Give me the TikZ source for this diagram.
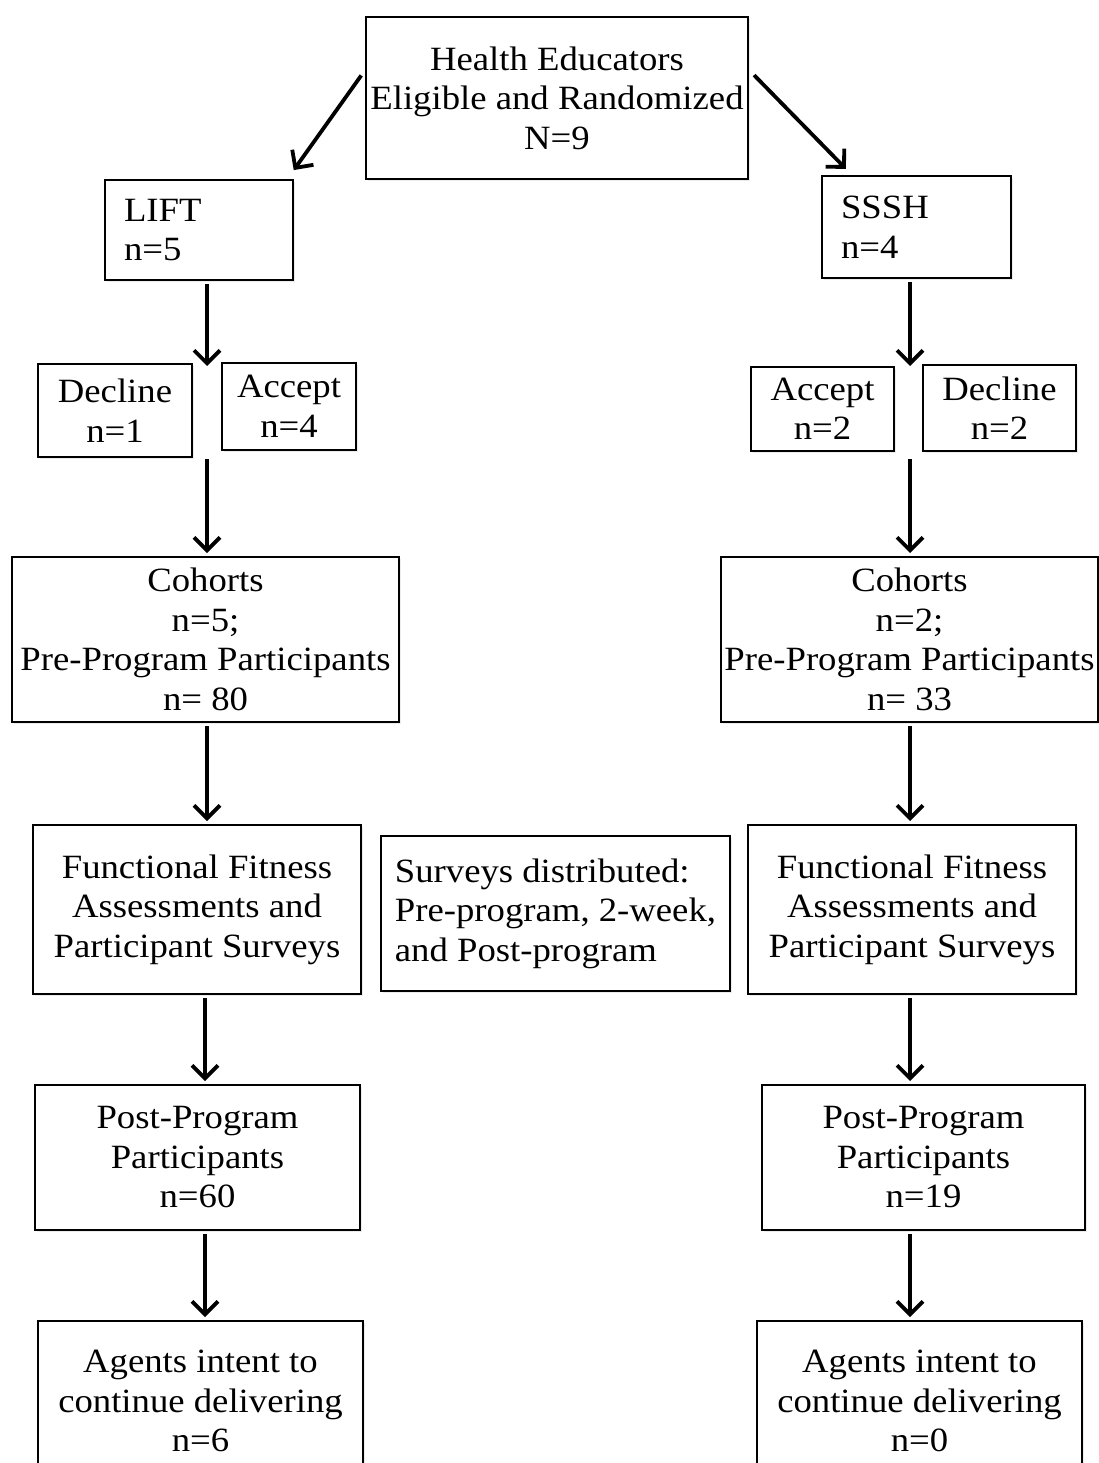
\documentclass[tikz,border=0pt]{standalone}
\usepackage{fontspec}
\setmainfont[FakeStretch=1.08]{Liberation Serif}
\usetikzlibrary{arrows.meta,shadows,calc}
\newcommand{\myfs}{\fontsize{34}{39.5}\selectfont}
\begin{document}
\begin{tikzpicture}[x=1pt,y=-1pt,
  box/.style={draw,line width=2pt,fill=white,
    drop shadow={opacity=0.15,shadow xshift=1.5pt,shadow yshift=-2pt},
    inner sep=0pt,align=center,font=\myfs},
  lbox/.style={box,align=left,inner xsep=19pt},
  arr/.style={line width=3.8pt,shorten <=3pt,shorten >=3pt,
    -{Straight Barb[length=13pt,width=26pt]}}]
\useasboundingbox (0,0) rectangle (1099,1463);
\clip (0,0) rectangle (1099,1463);
\fill[white] (0,0) rectangle (1099,1463);

\node[box,minimum width=382,minimum height=162] (top) at (557,98)
  {Health Educators\\Eligible and Randomized\\N=9};
\node[lbox,text width=150,minimum height=99] (lift) at (199,230) {LIFT\\n=5};
\node[lbox,text width=151,minimum height=102] (sssh) at (916.5,227) {SSSH\\n=4};

\node[box,minimum width=154,minimum height=93] (decL) at (115,410.5) {Decline\\n=1};
\node[box,minimum width=134,minimum height=87] (accL) at (289,406.5) {Accept\\n=4};
\node[box,minimum width=143,minimum height=84] (accR) at (822.5,409) {Accept\\n=2};
\node[box,minimum width=153,minimum height=86] (decR) at (999.5,408) {Decline\\n=2};

\node[box,minimum width=387,minimum height=165] (cohL) at (205.5,639.5)
  {Cohorts\\n=5;\\Pre-Program Participants\\n= 80};
\node[box,minimum width=377,minimum height=165] (cohR) at (909.5,639.5)
  {Cohorts\\n=2;\\Pre-Program Participants\\n= 33};

\node[box,minimum width=328,minimum height=169] (ffL) at (197,909.5)
  {Functional Fitness\\Assessments and\\Participant Surveys};
\node[box,align=left,minimum width=349,minimum height=155] (surv) at (555.5,913.5)
  {Surveys distributed:\\Pre-program, 2-week,\\and Post-program};
\node[box,minimum width=328,minimum height=169] (ffR) at (912,909.5)
  {Functional Fitness\\Assessments and\\Participant Surveys};

\node[box,minimum width=325,minimum height=145] (postL) at (197.5,1157.5)
  {Post-Program\\Participants\\n=60};
\node[box,minimum width=323,minimum height=145] (postR) at (923.5,1157.5)
  {Post-Program\\Participants\\n=19};

\node[box,minimum width=325,minimum height=160] (agL) at (200.5,1401)
  {Agents intent to\\continue delivering\\n=6};
\node[box,minimum width=325,minimum height=160] (agR) at (919.5,1401)
  {Agents intent to\\continue delivering\\n=0};

\coordinate (lsplit) at (207,369);
\coordinate (rsplit) at (910,369);
\coordinate (lmerge) at (207,459);
\coordinate (rmerge) at (910,459);

\draw[arr] ($(top.north west)+(-2,57)$) -- ($(lift.north east)+(-2,-7)$);
\draw[arr] ($(top.north east)+(3,57)$) -- ($(sssh.north west)+(27,-4)$);
\draw[arr] ([xshift=8pt]lift.south) -- (lsplit);
\draw[arr] ([xshift=-6.5pt]sssh.south) -- (rsplit);
\draw[arr,shorten <=0pt] (lmerge) -- ([xshift=1.5pt]cohL.north);
\draw[arr,shorten <=0pt] (rmerge) -- ([xshift=0.5pt]cohR.north);
\draw[arr] ([xshift=1.5pt]cohL.south) -- ([xshift=10pt]ffL.north);
\draw[arr] ([xshift=0.5pt]cohR.south) -- ([xshift=-2pt]ffR.north);
\draw[arr] ([xshift=8pt]ffL.south) -- ([xshift=7.5pt]postL.north);
\draw[arr] ([xshift=-2pt]ffR.south) -- ([xshift=-13.5pt]postR.north);
\draw[arr] ([xshift=7.5pt]postL.south) -- ([xshift=4.5pt]agL.north);
\draw[arr] ([xshift=-13.5pt]postR.south) -- ([xshift=-9.5pt]agR.north);
\end{tikzpicture}
\end{document}
